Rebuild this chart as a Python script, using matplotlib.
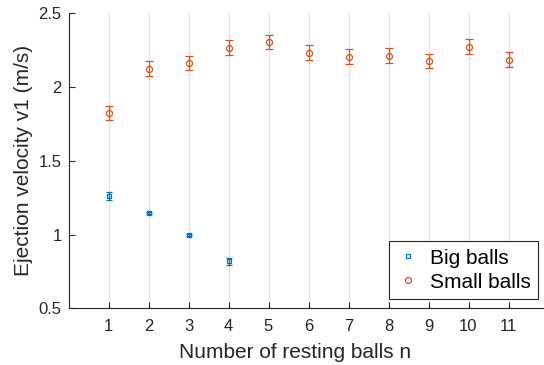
import numpy as np
import matplotlib
matplotlib.use("Agg")
import matplotlib.pyplot as plt

plt.rcParams['font.family'] = ['Liberation Sans', 'DejaVu Sans']

# Big balls
n_big = [1, 2, 3, 4]
v_big = [1.261, 1.146, 0.995, 0.819]
e_big = [0.030, 0.010, 0.008, 0.024]

# Small balls
n_small = [1, 2, 3, 4, 5, 6, 7, 8, 9, 10, 11]
v_small = [1.824, 2.125, 2.161, 2.267, 2.307, 2.233, 2.206, 2.213, 2.177, 2.274, 2.186]
e_small = [0.047, 0.049, 0.047, 0.049, 0.049, 0.049, 0.049, 0.049, 0.049, 0.049, 0.049]

blue = '#0072BD'
orange = '#D95319'
grey = '#262626'

fig = plt.figure(figsize=(5.44, 3.65), dpi=100)
ax = fig.add_axes([68.5/544, 1 - 308.3/365, 480/544, 295/365])

ax.errorbar(n_big, v_big, yerr=e_big, fmt='s', color=blue, mfc='none',
            ms=3.2, mew=0.9, elinewidth=0.9, capsize=2.0, capthick=0.9,
            label='Big balls')
ax.errorbar(n_small, v_small, yerr=e_small, fmt='o', color=orange, mfc='none',
            ms=4.3, mew=0.9, elinewidth=0.9, capsize=2.7, capthick=0.9,
            label='Small balls')

ax.set_xlim(0, 12)
ax.set_ylim(0.5, 2.5)
ax.set_xticks(range(1, 12))
ax.set_yticks([0.5, 1, 1.5, 2, 2.5])
ax.set_yticklabels(['0.5', '1', '1.5', '2', '2.5'])
ax.xaxis.grid(True, color='#e3e3e3', linewidth=0.9)
ax.set_axisbelow(True)

for s in ['top', 'right']:
    ax.spines[s].set_visible(False)
for s in ['left', 'bottom']:
    ax.spines[s].set_color(grey)
    ax.spines[s].set_linewidth(0.8)

ax.tick_params(direction='in', length=4, width=0.8, color=grey,
               labelcolor=grey, labelsize=12)
ax.tick_params(axis='x', pad=8)
ax.tick_params(axis='y', pad=5)

ax.set_xlabel('Number of resting balls n', fontsize=15, color=grey, labelpad=6)
ax.xaxis.label.set_x((295 - 68.5) / 480)
ax.set_ylabel('Ejection velocity v1 (m/s)', fontsize=15, color=grey, labelpad=4)

handles, labels = ax.get_legend_handles_labels()
handles = [h[0] for h in handles]
leg = ax.legend(handles, labels, loc='lower right', fontsize=15,
                bbox_to_anchor=((538 - 68.5)/480, (308.3 - 299)/295),
                frameon=True, fancybox=False, framealpha=1,
                edgecolor=grey, handlelength=1.1, handletextpad=0.5,
                borderpad=0.35, labelspacing=0.25, borderaxespad=0)
leg.get_frame().set_linewidth(0.8)

fig.savefig('out.png', dpi=100)
